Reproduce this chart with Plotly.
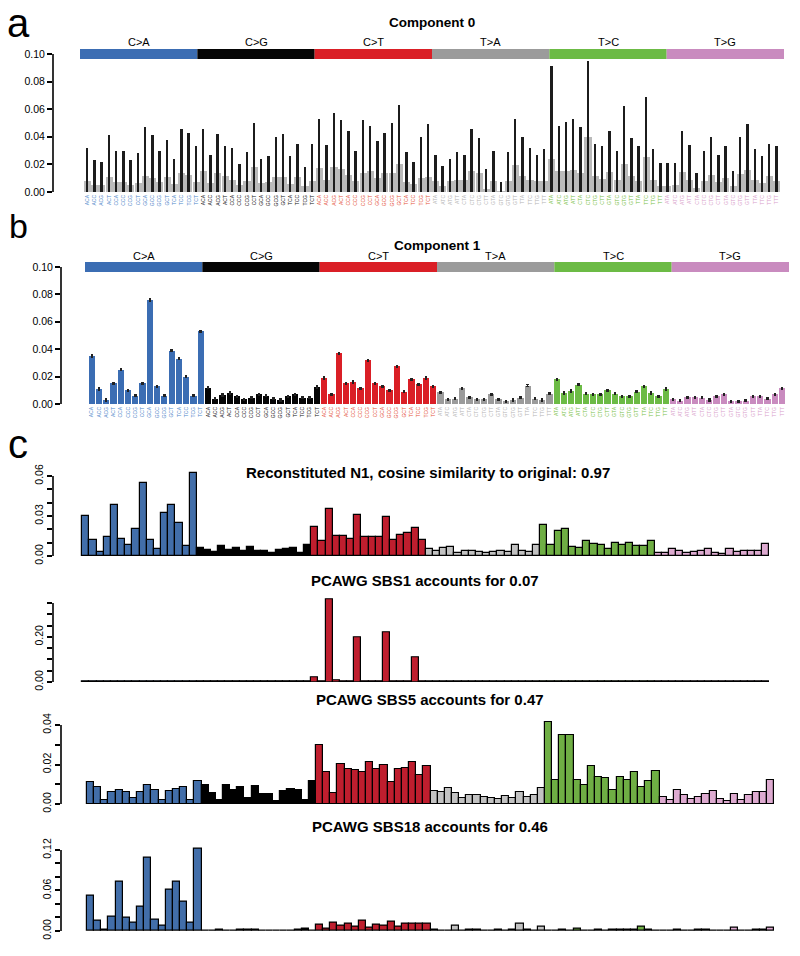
import plotly.graph_objects as go

W, H = 800, 956
FONT = "Liberation Sans, Arial, Helvetica, sans-serif"

# ---------------- data ----------------
mut_types = ["C>A", "C>G", "C>T", "T>A", "T>C", "T>G"]
bases = ["A", "C", "G", "T"]
contexts = [f"{b5}{m[0]}{b3}" for m in mut_types for b5 in bases for b3 in bases]

comp0_upper = [0.032, 0.023, 0.022, 0.041, 0.030, 0.030, 0.023, 0.028, 0.047, 0.041, 0.030, 0.038, 0.024, 0.046, 0.043, 0.033,
               0.046, 0.027, 0.042, 0.033, 0.032, 0.020, 0.029, 0.050, 0.024, 0.026, 0.040, 0.042, 0.026, 0.035, 0.018, 0.035,
               0.053, 0.034, 0.057, 0.052, 0.044, 0.030, 0.052, 0.048, 0.037, 0.043, 0.050, 0.063, 0.029, 0.022, 0.040, 0.049,
               0.027, 0.019, 0.024, 0.029, 0.027, 0.046, 0.039, 0.017, 0.030, 0.007, 0.029, 0.053, 0.040, 0.032, 0.027, 0.031,
               0.091, 0.048, 0.051, 0.053, 0.047, 0.095, 0.035, 0.033, 0.044, 0.030, 0.062, 0.039, 0.033, 0.069, 0.031, 0.021,
               0.021, 0.021, 0.044, 0.034, 0.014, 0.030, 0.040, 0.027, 0.033, 0.015, 0.040, 0.049, 0.031, 0.026, 0.035, 0.033]

comp0_mean = [0.008, 0.005, 0.005, 0.011, 0.007, 0.0075, 0.005, 0.0065, 0.0115, 0.010, 0.007, 0.011, 0.0055, 0.014, 0.012, 0.0075,
              0.015, 0.0065, 0.014, 0.0115, 0.009, 0.005, 0.008, 0.018, 0.0065, 0.007, 0.011, 0.011, 0.0055, 0.011, 0.0045, 0.008,
              0.0175, 0.0085, 0.018, 0.017, 0.012, 0.008, 0.014, 0.015, 0.0105, 0.014, 0.014, 0.020, 0.007, 0.006, 0.0105, 0.011,
              0.008, 0.0045, 0.008, 0.0085, 0.009, 0.0155, 0.014, 0.0025, 0.008, 0.001, 0.008, 0.0195, 0.0115, 0.009, 0.008, 0.008,
              0.024, 0.015, 0.015, 0.016, 0.014, 0.040, 0.0115, 0.0095, 0.0145, 0.009, 0.020, 0.0115, 0.008, 0.0255, 0.009, 0.0045,
              0.0045, 0.005, 0.0145, 0.0085, 0.003, 0.008, 0.012, 0.007, 0.0105, 0.0045, 0.013, 0.016, 0.0085, 0.0065, 0.0115, 0.008]

comp1 = [0.035, 0.011, 0.003, 0.015, 0.025, 0.010, 0.006, 0.015, 0.076, 0.013, 0.006, 0.039, 0.033, 0.020, 0.006, 0.053,
         0.012, 0.004, 0.0065, 0.008, 0.0055, 0.0035, 0.0045, 0.007, 0.006, 0.004, 0.003, 0.0055, 0.007, 0.0045, 0.0045, 0.0125,
         0.019, 0.007, 0.037, 0.015, 0.016, 0.0115, 0.032, 0.015, 0.013, 0.010, 0.0275, 0.009, 0.018, 0.0145, 0.019, 0.013,
         0.0085, 0.0035, 0.004, 0.0115, 0.005, 0.0035, 0.0035, 0.007, 0.0035, 0.002, 0.003, 0.0045, 0.0135, 0.004, 0.003, 0.0075,
         0.018, 0.008, 0.0095, 0.014, 0.0075, 0.007, 0.007, 0.010, 0.0075, 0.0055, 0.0055, 0.009, 0.013, 0.008, 0.0055, 0.011,
         0.0035, 0.0025, 0.005, 0.005, 0.0045, 0.003, 0.0055, 0.007, 0.002, 0.002, 0.0025, 0.0055, 0.0055, 0.004, 0.007, 0.0115]

recon_n1 = [0.030, 0.012, 0.003, 0.014, 0.038, 0.0125, 0.008, 0.020, 0.055, 0.012, 0.005, 0.032, 0.038, 0.025, 0.0075, 0.0625,
            0.006, 0.0045, 0.003, 0.0075, 0.0045, 0.006, 0.004, 0.007, 0.004, 0.004, 0.002, 0.0045, 0.005, 0.006, 0.0025, 0.0085,
            0.022, 0.011, 0.035, 0.015, 0.015, 0.013, 0.031, 0.014, 0.014, 0.014, 0.029, 0.012, 0.0155, 0.017, 0.021, 0.012,
            0.005, 0.0035, 0.006, 0.0065, 0.002, 0.004, 0.004, 0.003, 0.0025, 0.003, 0.0035, 0.003, 0.0085, 0.0035, 0.003, 0.008,
            0.023, 0.008, 0.019, 0.0205, 0.0065, 0.006, 0.011, 0.009, 0.008, 0.005, 0.0095, 0.0085, 0.0095, 0.0075, 0.0075, 0.011,
            0.0025, 0.002, 0.005, 0.0035, 0.002, 0.003, 0.004, 0.0055, 0.002, 0.0015, 0.0055, 0.003, 0.0035, 0.004, 0.004, 0.009]

sbs1 = [0.001, 0.001, 0.001, 0.002, 0.001, 0.002, 0.001, 0.001, 0.001, 0.002, 0.001, 0.001, 0.001, 0.001, 0.002, 0.001,
        0.001, 0.002, 0.001, 0.002, 0.001, 0.001, 0.001, 0.001, 0.001, 0.001, 0.001, 0.001, 0.001, 0.001, 0.001, 0.001,
        0.022, 0.004, 0.365, 0.006, 0.001, 0.001, 0.198, 0.002, 0.003, 0.001, 0.220, 0.002, 0.001, 0.001, 0.110, 0.001,
        0.001, 0.001, 0.001, 0.001, 0.001, 0.001, 0.001, 0.001, 0.001, 0.001, 0.001, 0.001, 0.003, 0.001, 0.001, 0.001,
        0.001, 0.001, 0.001, 0.003, 0.001, 0.001, 0.001, 0.001, 0.001, 0.001, 0.001, 0.001, 0.001, 0.002, 0.001, 0.002,
        0.001, 0.001, 0.001, 0.001, 0.001, 0.001, 0.001, 0.001, 0.001, 0.001, 0.001, 0.001, 0.001, 0.001, 0.001, 0.001]

sbs5 = [0.011, 0.0085, 0.002, 0.0062, 0.0068, 0.006, 0.0032, 0.006, 0.0095, 0.007, 0.002, 0.0064, 0.0074, 0.0085, 0.002, 0.0116,
        0.0096, 0.0054, 0.002, 0.0096, 0.0068, 0.0086, 0.003, 0.009, 0.005, 0.005, 0.0015, 0.0064, 0.0074, 0.0072, 0.002, 0.0116,
        0.030, 0.0164, 0.0054, 0.020, 0.0177, 0.0174, 0.016, 0.021, 0.0177, 0.0197, 0.011, 0.0177, 0.0184, 0.021, 0.0147, 0.019,
        0.0066, 0.0062, 0.0083, 0.0057, 0.003, 0.0046, 0.0046, 0.0037, 0.0032, 0.0024, 0.004, 0.003, 0.0059, 0.0037, 0.0046, 0.008,
        0.0417, 0.0122, 0.035, 0.035, 0.0122, 0.0096, 0.019, 0.0137, 0.013, 0.0071, 0.0137, 0.0122, 0.0164, 0.0088, 0.0116, 0.0167,
        0.0037, 0.002, 0.0071, 0.0046, 0.0024, 0.0037, 0.0052, 0.0066, 0.0024, 0.0015, 0.005, 0.002, 0.0046, 0.0059, 0.0062, 0.0122]

sbs18 = [0.052, 0.015, 0.0025, 0.021, 0.073, 0.020, 0.012, 0.036, 0.108, 0.017, 0.008, 0.062, 0.073, 0.0435, 0.012, 0.1215,
         0.001, 0.001, 0.0015, 0.001, 0.0005, 0.0015, 0.002, 0.002, 0.0005, 0.001, 0.0005, 0.0005, 0.001, 0.002, 0.003, 0.001,
         0.010, 0.004, 0.012, 0.0075, 0.011, 0.0065, 0.016, 0.0055, 0.010, 0.0075, 0.014, 0.0065, 0.011, 0.011, 0.011, 0.011,
         0.002, 0.001, 0.001, 0.008, 0.001, 0.0015, 0.0015, 0.001, 0.001, 0.0015, 0.001, 0.002, 0.011, 0.002, 0.001, 0.0065,
         0.001, 0.001, 0.0015, 0.001, 0.003, 0.001, 0.001, 0.0015, 0.001, 0.002, 0.002, 0.0015, 0.002, 0.0065, 0.002, 0.001,
         0.001, 0.001, 0.0015, 0.001, 0.001, 0.002, 0.002, 0.001, 0.001, 0.001, 0.005, 0.001, 0.001, 0.002, 0.002, 0.005]

titles_c = ["Reconstituted N1, cosine similarity to original: 0.97",
            "PCAWG SBS1 accounts for 0.07",
            "PCAWG SBS5 accounts for 0.47",
            "PCAWG SBS18 accounts for 0.46"]

# ---------------- style ----------------
header_colors = ["#3B6DB3", "#050505", "#DA1F26", "#9B9B9B", "#6CBB45", "#C98BBF"]
label_colors = ["#4F86C9", "#111111", "#E5533A", "#B5B5B5", "#7DC24B", "#D9A3CC"]
bar_colors_b = header_colors
bar_colors_c = ["#426EA9", "#000000", "#BF1E2E", "#C2C2C2", "#6FAE44", "#DDAAD0"]

idx = list(range(96))
grp = [i // 16 for i in idx]


def fx(px):
    return px / W


def fy(py):
    return 1 - py / H


fig = go.Figure()
shapes = []
annotations = []

# panel geometry (pixels): axis x, first bar centre, slot, right edge, y of 0, y of top tick
panels = [
    dict(axis=53, c0=87.3, slot=7.257, right=790, y0=192, yt=54, tv=0.10, ymax=0.10,
         ticks=[0, 0.02, 0.04, 0.06, 0.08, 0.10], labels=["0.00", "0.02", "0.04", "0.06", "0.08", "0.10"], rot=0, xl=True),
    dict(axis=61, c0=91.7, slot=7.266, right=795, y0=404, yt=267, tv=0.10, ymax=0.10,
         ticks=[0, 0.02, 0.04, 0.06, 0.08, 0.10], labels=["0.00", "0.02", "0.04", "0.06", "0.08", "0.10"], rot=0, xl=True),
    dict(axis=53, c0=85.9, slot=7.156, right=780, y0=556, yt=476, tv=0.06, ymax=0.066,
         ticks=[0, 0.01, 0.02, 0.03, 0.04, 0.05, 0.06], labels=["0.00", "", "", "0.03", "", "", "0.06"], rot=-90, xl=False),
    dict(axis=53, c0=85.9, slot=7.156, right=780, y0=682, yt=603, tv=0.35, ymax=0.375,
         ticks=[0, 0.05, 0.10, 0.15, 0.20, 0.25, 0.30, 0.35], labels=["0.00", "", "", "", "0.20", "", "", ""], rot=-90, xl=False),
    dict(axis=61, c0=90.6, slot=7.156, right=785, y0=804, yt=725, tv=0.04, ymax=0.044,
         ticks=[0, 0.01, 0.02, 0.03, 0.04], labels=["0.00", "", "0.02", "", "0.04"], rot=-90, xl=False),
    dict(axis=61, c0=90.6, slot=7.156, right=785, y0=931, yt=850, tv=0.12, ymax=0.125,
         ticks=[0, 0.02, 0.04, 0.06, 0.08, 0.10, 0.12], labels=["0.00", "", "", "0.06", "", "", "0.12"], rot=-90, xl=False),
]

ticktext_col = [f"<span style='color:{label_colors[g]}'>{c}</span>" for c, g in zip(contexts, grp)]

layout_axes = {}
for k, p in enumerate(panels):
    n = k + 1
    xa = "xaxis" if n == 1 else f"xaxis{n}"
    ya = "yaxis" if n == 1 else f"yaxis{n}"
    xr = "x" if n == 1 else f"x{n}"
    yr = "y" if n == 1 else f"y{n}"
    x_lo = (p["axis"] - p["c0"]) / p["slot"]
    x_hi = (p["right"] - p["c0"]) / p["slot"]
    top_px = p["y0"] - (p["y0"] - p["yt"]) * p["ymax"] / p["tv"]
    layout_axes[xa] = dict(domain=[fx(p["axis"]), fx(p["right"])], range=[x_lo, x_hi], anchor=yr,
                           showgrid=False, zeroline=False, showline=False, ticks="",
                           showticklabels=p["xl"],
                           tickmode="array", tickvals=idx if p["xl"] else [],
                           ticktext=ticktext_col if p["xl"] else [],
                           tickangle=-90, tickfont=dict(size=5, family=FONT),
                           ticklabelstandoff=1, automargin=False)
    layout_axes[ya] = dict(domain=[fy(p["y0"]), fy(top_px)], range=[0, p["ymax"]], anchor=xr,
                           showgrid=False, zeroline=False, showline=False,
                           ticks="outside", ticklen=5, tickwidth=1.6, tickcolor="black",
                           tickmode="array", tickvals=p["ticks"], ticktext=p["labels"],
                           tickangle=p["rot"], tickfont=dict(size=10.5, family=FONT, color="black"),
                           automargin=False)
    # axis line limited to tick range (R style)
    shapes.append(dict(type="line", xref="paper", yref=yr, x0=fx(p["axis"]), x1=fx(p["axis"]),
                       y0=0, y1=p["tv"], line=dict(color="black", width=1.6)))
    p["xr"], p["yr"] = xr, yr

# ---------------- traces ----------------
pa, pb = panels[0], panels[1]
fig.add_trace(go.Bar(x=idx, y=comp0_mean, xaxis=pa["xr"], yaxis=pa["yr"], width=0.98,
                     marker=dict(color="rgba(140,140,140,0.6)", line=dict(width=0))))
fig.add_trace(go.Bar(x=idx, y=comp0_upper, xaxis=pa["xr"], yaxis=pa["yr"], width=0.26,
                     marker=dict(color="#1c1c1c", line=dict(width=0))))

fig.add_trace(go.Bar(x=idx, y=comp1, xaxis=pb["xr"], yaxis=pb["yr"], width=0.86,
                     marker=dict(color=[bar_colors_b[g] for g in grp], line=dict(width=0)),
                     error_y=dict(type="constant", value=0.0006, color="#222222", thickness=1.6, width=1.2)))

for k, vals in zip(range(2, 6), [recon_n1, sbs1, sbs5, sbs18]):
    p = panels[k]
    fig.add_trace(go.Bar(x=idx, y=vals, xaxis=p["xr"], yaxis=p["yr"], width=1.0,
                         marker=dict(color=[bar_colors_c[g] for g in grp],
                                     line=dict(color="black", width=1.2))))

# ---------------- header colour strips ----------------
for (x0, x1, yb0, yb1, ylab) in [(80, 784, 49, 59, 42), (85, 789, 262, 272, 256)]:
    gw = (x1 - x0) / 6
    for g, (m, col) in enumerate(zip(mut_types, header_colors)):
        shapes.append(dict(type="rect", xref="paper", yref="paper",
                           x0=fx(x0 + g * gw), x1=fx(x0 + (g + 1) * gw), y0=fy(yb1), y1=fy(yb0),
                           fillcolor=col, line=dict(width=0)))
        annotations.append(dict(text=m, xref="paper", yref="paper", x=fx(x0 + (g + 0.5) * gw), y=fy(ylab),
                                showarrow=False, xanchor="center", yanchor="middle",
                                font=dict(size=11, family=FONT, color="black")))

# ---------------- titles ----------------
annotations.append(dict(text="<b>Component 0</b>", xref="paper", yref="paper", x=fx(432), y=fy(13),
                        showarrow=False, font=dict(size=13.5, family=FONT, color="black")))
annotations.append(dict(text="<b>Component 1</b>", xref="paper", yref="paper", x=fx(437), y=fy(236),
                        showarrow=False, font=dict(size=13.5, family=FONT, color="black")))
for t, xc, yc in zip(titles_c, [428, 425, 430, 430], [472, 580, 710, 837]):
    annotations.append(dict(text=f"<b>{t}</b>", xref="paper", yref="paper", x=fx(xc), y=fy(yc),
                            showarrow=False, font=dict(size=15, family=FONT, color="black")))

# panel letters
annotations.append(dict(text="a", xref="paper", yref="paper", x=fx(18), y=1.0,
                        showarrow=False, xanchor="center", yanchor="top", borderpad=0,
                        font=dict(size=40, family=FONT, color="black")))
for letter, yc, sz in [("b", 226, 34), ("c", 444, 40)]:
    annotations.append(dict(text=letter, xref="paper", yref="paper", x=fx(18), y=fy(yc),
                            showarrow=False, xanchor="center", yanchor="middle",
                            font=dict(size=sz, family=FONT, color="black")))

fig.update_layout(width=W, height=H, margin=dict(l=0, r=0, t=0, b=0, autoexpand=False),
                  paper_bgcolor="white", plot_bgcolor="white",
                  barmode="overlay", bargap=0, showlegend=False,
                  shapes=shapes, annotations=annotations,
                  font=dict(family=FONT, color="black"), **layout_axes)

fig.write_html("out.html", config={"displayModeBar": False},
               post_script="document.body.style.margin='0';document.body.style.overflow='hidden';")
